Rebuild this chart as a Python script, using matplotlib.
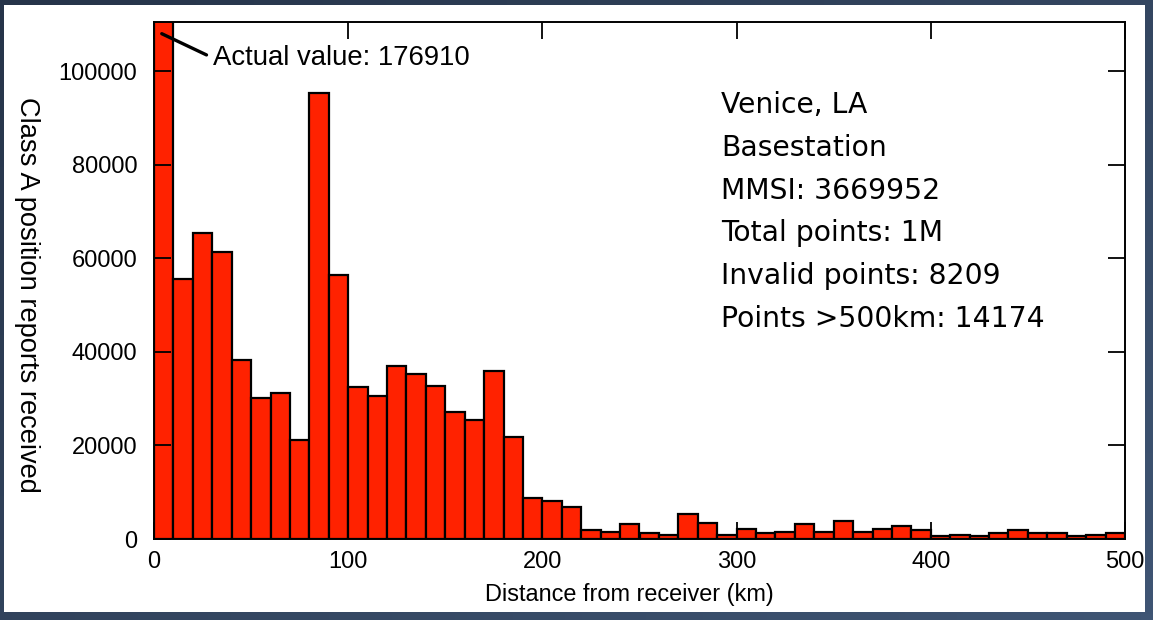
import numpy as np
import matplotlib
matplotlib.use("Agg")
import matplotlib.pyplot as plt
from matplotlib.patches import Rectangle
from matplotlib.colors import LinearSegmentedColormap

# ---- data ----
bin_width = 10
bin_starts = list(range(0, 500, bin_width))
counts = [176910, 55500, 65500, 61300, 38200, 30200, 31100, 21200, 95400, 56500,
          32500, 30600, 36900, 35200, 32600, 27100, 25500, 36000, 21900, 8700,
          8100, 6800, 2000, 1500, 3100, 1300, 750, 5300, 3400, 950,
          2200, 1250, 1600, 3200, 1450, 3900, 1450, 2200, 2700, 1900,
          550, 750, 600, 1200, 2000, 1300, 1300, 550, 800, 1200]
x_ticks = [0, 100, 200, 300, 400, 500]
y_ticks = [0, 20000, 40000, 60000, 80000, 100000]
info_lines = ["Venice, LA", "Basestation", "MMSI: 3669952", "Total points: 1M",
              "Invalid points: 8209", "Points >500km: 14174"]
annot_text = "Actual value: 176910"
xlabel = "Distance from receiver (km)"
ylabel = "Class A position reports received"

W, H = 1153, 620
fig = plt.figure(figsize=(W / 100, H / 100), dpi=100)
fig.patch.set_facecolor("#2f4059")

# gradient backdrop
bg = fig.add_axes([0, 0, 1, 1], zorder=-10)
gx = np.linspace(0, 1, 200)
gy = np.linspace(0, 1, 100)
GX, GY = np.meshgrid(gx, gy)
grad = 0.55 * GX + 0.45 * GY
cmap = LinearSegmentedColormap.from_list("bgc", ["#263449", "#3f5574"])
bg.imshow(grad, cmap=cmap, aspect="auto", extent=[0, 1, 0, 1], origin="upper")
bg.set_axis_off()

# white panel
fig.patches.append(Rectangle((4 / W, 8 / H), (1145 - 4) / W, (615 - 8) / H,
                             transform=fig.transFigure, facecolor="white",
                             edgecolor="none", zorder=-5))

left, right, bottom, top = 154, 1125, 539, 22
ax = fig.add_axes([left / W, (H - bottom) / H, (right - left) / W, (bottom - top) / H])
ax.set_facecolor("white")

ax.bar(bin_starts, counts, width=bin_width, align="edge", color="#ff2200",
       edgecolor="black", linewidth=1.6)

ax.set_xlim(0, 500)
ax.set_ylim(0, 110500)
ax.set_xticks(x_ticks)
ax.set_yticks(y_ticks)
ax.set_xticklabels([str(v) for v in x_ticks])
ax.set_yticklabels([str(v) for v in y_ticks])
for s in ax.spines.values():
    s.set_linewidth(1.4)
ax.tick_params(direction="in", length=12, width=1.3, top=True, right=True,
               labelsize=17, colors="black")
ax.tick_params(axis="x", pad=9)
ax.tick_params(axis="y", pad=12)
for lab in ax.get_xticklabels() + ax.get_yticklabels():
    lab.set_fontfamily("Liberation Sans")

ax.annotate(annot_text, xy=(4, 108000), xytext=(30.4, 102800),
            textcoords="data", va="center", ha="left", fontsize=19.8,
            fontfamily="Liberation Sans",
            arrowprops=dict(arrowstyle="-", lw=2.4, color="black",
                            shrinkA=3, shrinkB=0, relpos=(0, 0.5)))

fig.text(629 / W, (H - 594) / H, xlabel, ha="center", va="center",
         fontsize=16.9, fontfamily="Liberation Sans")
fig.text(27 / W, (H - 295) / H, ylabel, ha="center", va="center",
         rotation=270, fontsize=19.6, fontfamily="Liberation Sans")

# info text block
base0 = 113
step = 42.8
for i, line in enumerate(info_lines):
    yb = base0 + i * step
    fig.text(721 / W, (H - yb) / H, line, ha="left", va="baseline",
             fontsize=20.3, fontfamily="DejaVu Sans", color="black")

fig.savefig("out.png", dpi=100, facecolor=fig.get_facecolor())
